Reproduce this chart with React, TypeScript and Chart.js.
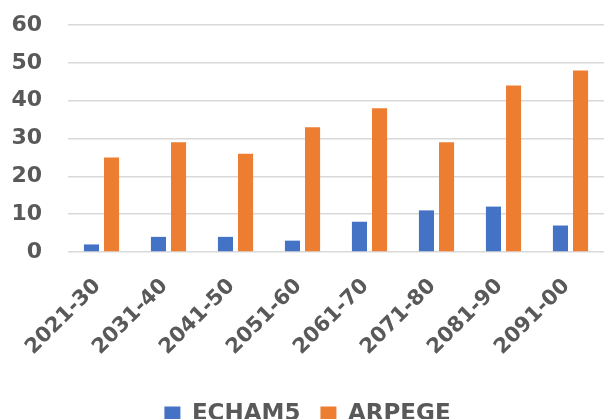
import React, { useEffect, useRef } from "react";
import { Chart, registerables } from "chart.js";

Chart.register(...registerables);

const periods = ["2021-30", "2031-40", "2041-50", "2051-60", "2061-70", "2071-80", "2081-90", "2091-00"];
const echam5 = [2, 4, 4, 3, 8, 11, 12, 7];
const arpege = [25, 29, 26, 33, 38, 29, 44, 48];
const yTicks = [0, 10, 20, 30, 40, 50, 60];

const GREY = "#595959";
const FONT = "'DejaVu Sans', sans-serif";
const W = 605;
const H = 436;

export default function App() {
  const ref = useRef<HTMLCanvasElement | null>(null);

  useEffect(() => {
    if (!ref.current) return;
    const chart = new Chart(ref.current, {
      type: "bar",
      data: {
        labels: periods,
        datasets: [
          { label: "ECHAM5", data: echam5, backgroundColor: "#4472C4" },
          { label: "ARPEGE", data: arpege, backgroundColor: "#ED7D31" },
        ],
      },
      options: {
        responsive: false,
        animation: false,
        datasets: { bar: { barPercentage: 0.75, categoryPercentage: 0.6 } },
        layout: { padding: { left: 11, right: 1, top: 25, bottom: 0 } },
        plugins: {
          tooltip: { enabled: false },
          legend: {
            position: "bottom",
            labels: {
              color: GREY,
              font: { family: FONT, size: 23, weight: "bold" },
              boxWidth: 16,
              boxHeight: 16,
              padding: 20,
            },
          },
        },
        scales: {
          x: {
            grid: { display: false },
            border: { display: false },
            afterFit: (axis: any) => {
              axis.height = 131;
            },
            ticks: {
              color: GREY,
              font: { family: FONT, size: 21, weight: "bold" },
              minRotation: 45,
              maxRotation: 45,
              padding: 14,
              labelOffset: -4,
            },
          },
          y: {
            min: yTicks[0],
            max: yTicks[yTicks.length - 1],
            afterBuildTicks: (axis: any) => {
              axis.ticks = yTicks.map((v) => ({ value: v }));
            },
            afterFit: (axis: any) => {
              axis.width = 57;
              axis.paddingTop = 0;
              axis.paddingBottom = 0;
            },
            grid: { color: "#D9D9D9", lineWidth: 1.5, drawTicks: false },
            border: { display: false },
            ticks: {
              color: GREY,
              font: { family: FONT, size: 22, weight: "bold" },
              padding: 26,
            },
          },
        },
      },
    });
    return () => chart.destroy();
  }, []);

  return (
    <div style={{ position: "fixed", left: 0, top: 0, width: W, height: H, background: "#fff" }}>
      <canvas ref={ref} width={W} height={H} style={{ display: "block" }} />
    </div>
  );
}
